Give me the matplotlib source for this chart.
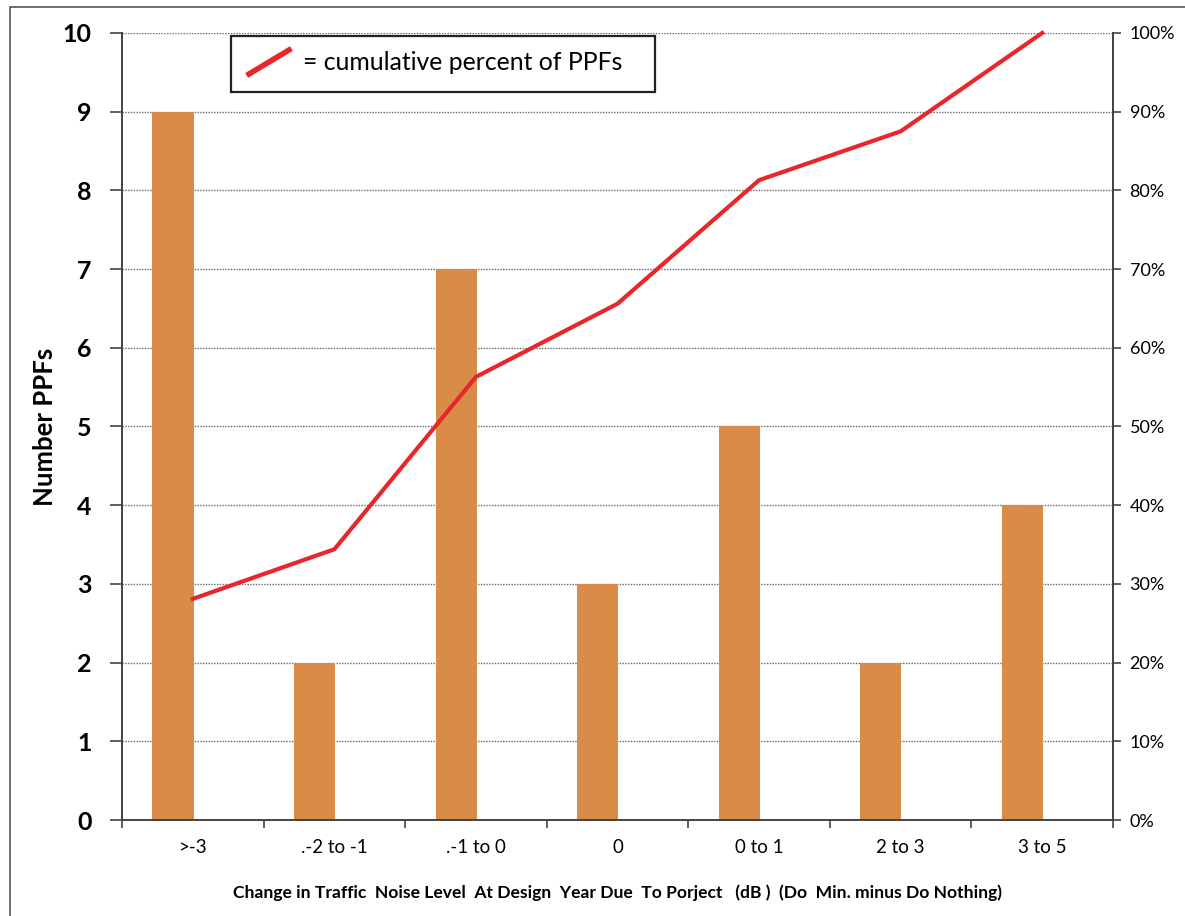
import matplotlib
matplotlib.use('Agg')
import matplotlib.pyplot as plt
from matplotlib.lines import Line2D
from matplotlib.patches import Rectangle
from matplotlib.ticker import FuncFormatter
import numpy as np

# 数据
categories = ['>-3', '.-2 to -1', '.-1 to 0', '0', '0 to 1', '2 to 3', '3 to 5']
counts = [9, 2, 7, 3, 5, 2, 4]
cum_pct = [28.1, 34.4, 56.3, 65.6, 81.3, 87.5, 100.0]
yticks_left = list(range(0, 11))
yticks_right = [0, 10, 20, 30, 40, 50, 60, 70, 80, 90, 100]

plt.rcParams['font.family'] = ['Lato', 'DejaVu Sans']

fig = plt.figure(figsize=(11.85, 9.16), dpi=100)
ax = fig.add_axes([0.1030, 0.1048, 0.8362, 0.8592])

# 外框
fig.patches.append(Rectangle((10 / 1185, -0.1), 1.2, 1 - 7 / 916 + 0.1, transform=fig.transFigure,
                             fill=False, edgecolor='#555555', linewidth=1.2, zorder=0))

x = np.arange(len(categories))
ax.set_axisbelow(True)
ax.bar(x - 0.14, counts, width=0.29, color='#D98C48', edgecolor='none', zorder=2)

ax.set_xlim(-0.5, len(categories) - 0.5)
ax.set_ylim(0, 10)
ax.set_yticks(yticks_left)
ax.set_yticklabels([str(v) for v in yticks_left], fontsize=18, fontweight='bold')
ax.grid(axis='y', color='#666666', linewidth=1, linestyle=(0, (1, 1)))

ax.set_xticks(x)
ax.set_xticklabels(categories, fontsize=13.5)
ax.set_xticks(np.arange(-0.5, len(categories)), minor=True)
ax.tick_params(axis='x', which='major', length=0, pad=14)
ax.tick_params(axis='x', which='minor', length=6, width=1.2, color='#444444')
ax.tick_params(axis='y', length=9, width=1.2, color='#444444', pad=13)

for s in ['top']:
    ax.spines[s].set_visible(False)
for s in ['left', 'bottom', 'right']:
    ax.spines[s].set_color('#444444')
    ax.spines[s].set_linewidth(1.4)

ax.set_ylabel('Number PPFs', fontsize=18.5, fontweight='bold', labelpad=4)
ax.set_xlabel('Change in Traffic  Noise Level  At Design  Year Due  To Porject   (dB )  (Do  Min. minus Do Nothing)',
              fontsize=12.6, fontweight='bold', labelpad=20)

# 累计百分比折线
ax2 = ax.twinx()
ax2.plot(x, cum_pct, color='#E8262C', linewidth=3, zorder=3, clip_on=False)
ax2.set_ylim(0, 100)
ax2.set_yticks(yticks_right)
ax2.yaxis.set_major_formatter(FuncFormatter(lambda v, p: '%d%%' % v))
ax2.tick_params(axis='y', length=6, width=1.2, color='#444444', labelsize=13, pad=6)
for s in ['top', 'left', 'bottom']:
    ax2.spines[s].set_visible(False)
ax2.spines['right'].set_color('#444444')
ax2.spines['right'].set_linewidth(1.4)

# 图例框
box = Rectangle((231 / 1185, 1 - 92 / 916), (655 - 231) / 1185, (92 - 36) / 916, transform=fig.transFigure,
                fill=True, facecolor='white', edgecolor='#222222', linewidth=1.6, zorder=5)
fig.patches.append(box)
fig.lines.append(Line2D([249 / 1185, 289 / 1185], [1 - 74 / 916, 1 - 50 / 916], transform=fig.transFigure,
                        color='#E8262C', linewidth=4, zorder=6))
fig.text(303 / 1185, 1 - 63 / 916, '= cumulative percent of PPFs', fontsize=17.8, va='center', ha='left', zorder=6)

plt.savefig('out.png', dpi=100)
